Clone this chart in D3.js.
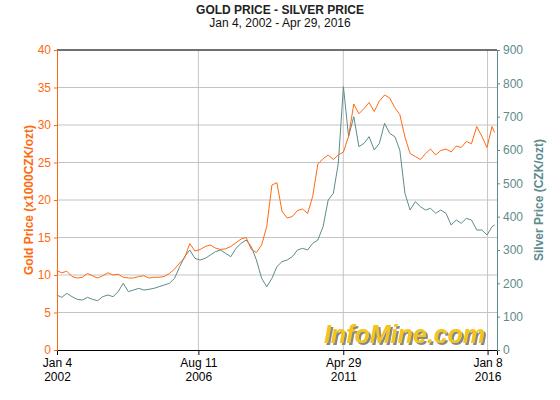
<!DOCTYPE html><html><head><meta charset="utf-8"><script src="https://cdn.jsdelivr.net/npm/d3@7"></script>
<style>body{margin:0;background:#fff}text{font-family:"Liberation Sans",Arial,sans-serif}</style></head><body><svg id="c" width="560" height="400"><defs><filter id="sh" x="-5%" y="-20%" width="115%" height="150%"><feDropShadow dx="2" dy="2" stdDeviation="0.5" flood-color="#888"/></filter></defs></svg>
<script>
const dates=["2002-01","2002-03","2002-05","2002-07","2002-09","2002-11","2003-01","2003-03","2003-05","2003-07","2003-09","2003-11","2004-01","2004-03","2004-05","2004-07","2004-09","2004-11","2005-01","2005-03","2005-05","2005-07","2005-09","2005-11","2006-01","2006-03","2006-05","2006-07","2006-09","2006-11","2007-01","2007-03","2007-05","2007-07","2007-09","2007-11","2008-01","2008-03","2008-05","2008-07","2008-09","2008-11","2009-01","2009-03","2009-05","2009-07","2009-09","2009-11","2010-01","2010-03","2010-05","2010-07","2010-09","2010-11","2011-01","2011-03","2011-05","2011-07","2011-09","2011-11","2012-01","2012-03","2012-05","2012-07","2012-09","2012-11","2013-01","2013-03","2013-05","2013-07","2013-09","2013-11","2014-01","2014-03","2014-05","2014-07","2014-09","2014-11","2015-01","2015-03","2015-05","2015-07","2015-09","2015-11","2016-01","2016-03","2016-04"];
const gold=[10.6,10.3,10.5,9.8,9.6,9.7,10.2,9.9,9.6,9.9,10.3,10.0,10.1,9.7,9.6,9.6,9.8,9.9,9.6,9.7,9.7,9.8,10.2,10.8,11.6,12.3,14.2,13.2,13.4,13.8,14.0,13.6,13.4,13.5,13.8,14.3,14.8,15.0,13.4,13.0,14.0,16.5,22.0,22.3,18.5,17.6,17.8,18.6,18.8,18.2,20.5,24.8,25.5,26.0,25.4,26.0,26.4,28.5,32.8,31.5,32.2,33.0,31.8,33.2,34.0,33.6,32.3,31.4,28.4,26.2,25.8,25.4,26.2,26.8,26.0,26.6,26.8,26.4,27.2,27.0,27.8,27.5,29.8,28.5,27.0,29.8,29.0];
const silver=[165,158,170,160,152,150,158,152,148,160,165,160,175,200,175,180,185,180,182,185,190,195,200,215,250,280,300,275,270,275,285,295,300,290,280,305,320,330,310,270,215,190,215,250,265,270,280,300,305,300,320,330,370,450,470,560,790,640,700,610,620,640,600,620,680,650,640,600,470,420,445,430,420,425,410,420,410,375,390,380,395,390,360,360,345,370,375];
const tickDates=["2002-01-04","2006-08-11","2011-04-29","2016-01-08"];
const tickLabels=[["Jan 4","2002"],["Aug 11","2006"],["Apr 29","2011"],["Jan 8","2016"]];
const goldTicks=[0,5,10,15,20,25,30,35,40], silverTicks=[0,100,200,300,400,500,600,700,800,900];
const P=d3.timeParse("%Y-%m"),PD=d3.timeParse("%Y-%m-%d");
const svg=d3.select("#c");
const L=57,R=497,T=50,B=350;
const x=d3.scaleTime().domain([PD("2002-01-04"),PD("2016-04-29")]).range([L,R]);
const yg=d3.scaleLinear().domain([0,40]).range([B,T]);
const ys=d3.scaleLinear().domain([0,900]).range([B,T]);
const GC="#ff6a10",SC="#5e8b8b";
svg.append("text").attr("x",280).attr("y",14).attr("text-anchor","middle").attr("font-size",12).attr("font-weight","bold").attr("fill","#222").text("GOLD PRICE - SILVER PRICE");
svg.append("text").attr("x",280).attr("y",27).attr("text-anchor","middle").attr("font-size",12).attr("fill","#111").text("Jan 4, 2002 - Apr 29, 2016");
const g=svg.append("g");
g.selectAll(".h").data(goldTicks.slice(1)).join("line").attr("x1",L).attr("x2",R).attr("y1",d=>yg(d)).attr("y2",d=>yg(d)).attr("stroke","#c4c4c4");
g.selectAll(".v").data(tickDates.slice(1)).join("line").attr("x1",d=>x(PD(d))).attr("x2",d=>x(PD(d))).attr("y1",T).attr("y2",B).attr("stroke","#c4c4c4");
g.append("line").attr("x1",L).attr("x2",R).attr("y1",T).attr("y2",T).attr("stroke","#000");
svg.append("text").attr("x",485).attr("y",343).attr("font-size",25).attr("font-weight","bold").attr("font-style","italic").attr("text-anchor","end").attr("fill","#f5c518").attr("filter","url(#sh)").text("InfoMine.com");
const lg=d3.line().x((d,i)=>x(P(dates[i]))).y(d=>yg(d));
const ls=d3.line().x((d,i)=>x(P(dates[i]))).y(d=>ys(d));
svg.append("path").attr("d",ls(silver)).attr("fill","none").attr("stroke",SC).attr("stroke-width",1);
svg.append("path").attr("d",lg(gold)).attr("fill","none").attr("stroke",GC).attr("stroke-width",1);
const ax=svg.append("g").attr("transform",`translate(0,${B})`).call(d3.axisBottom(x).tickValues(tickDates.map(d=>PD(d))).tickFormat("").tickSize(5));
ax.select(".domain").attr("stroke","#000");
ax.selectAll(".tick").each(function(d,i){const t=d3.select(this);t.append("text").attr("y",17).attr("fill","#000").attr("font-size",12).text(tickLabels[i][0]);t.append("text").attr("y",31).attr("fill","#000").attr("font-size",12).text(tickLabels[i][1]);});
const al=svg.append("g").attr("transform",`translate(${L},0)`).call(d3.axisLeft(yg).tickValues(goldTicks).tickSize(3).tickPadding(3));
al.selectAll("line,path").attr("stroke",GC);al.selectAll("text").attr("fill",GC).attr("font-size",12);
const ar=svg.append("g").attr("transform",`translate(${R},0)`).call(d3.axisRight(ys).tickValues(silverTicks).tickSize(3).tickPadding(3));
ar.selectAll("line,path").attr("stroke",SC);ar.selectAll("text").attr("fill",SC).attr("font-size",12);
svg.append("text").attr("transform","translate(33,200) rotate(-90)").attr("text-anchor","middle").attr("font-size",12).attr("font-weight","bold").attr("fill",GC).text("Gold Price (x1000CZK/ozt)");
svg.append("text").attr("transform","translate(543,200) rotate(-90)").attr("text-anchor","middle").attr("font-size",12).attr("font-weight","bold").attr("fill",SC).text("Silver Price (CZK/ozt)");
</script></body></html>
